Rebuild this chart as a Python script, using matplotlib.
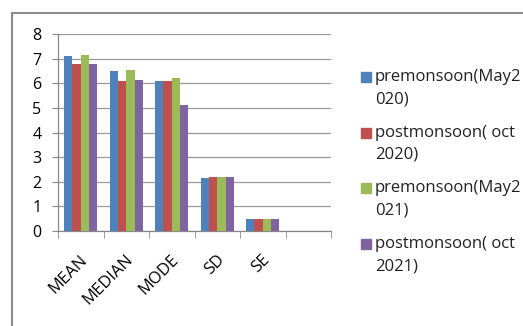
import matplotlib
matplotlib.use("Agg")
import matplotlib.pyplot as plt
from matplotlib.lines import Line2D
from matplotlib.patches import Rectangle
from matplotlib.transforms import ScaledTranslation
import numpy as np

categories = ["MEAN", "MEDIAN", "MODE", "SD", "SE", ""]
series_names = ["premonsoon(May2\n020)", "postmonsoon( oct\n2020)",
                "premonsoon(May2\n021)", "postmonsoon( oct\n2021)"]
pre_2020 = [7.13, 6.51, 6.10, 2.16, 0.50, np.nan]
post_2020 = [6.78, 6.10, 6.10, 2.20, 0.50, np.nan]
pre_2021 = [7.17, 6.55, 6.22, 2.20, 0.50, np.nan]
post_2021 = [6.78, 6.14, 5.11, 2.20, 0.50, np.nan]
colors = ["#4F81BD", "#C0504D", "#9BBB59", "#8064A2"]

plt.rcParams['font.family'] = ['Open Sans', 'DejaVu Sans']

W, H = 523, 326
fig = plt.figure(figsize=(W / 100, H / 100), dpi=100)
ax = fig.add_axes([58 / W, 1 - 231 / H, (331 - 58) / W, (231 - 34.3) / H])

x = np.arange(len(categories))
bw = 1 / 5.5
data = [pre_2020, post_2020, pre_2021, post_2021]
for i, (vals, c, name) in enumerate(zip(data, colors, series_names)):
    ax.bar(x + (i - 1.5) * bw, vals, width=bw, color=c, label=name, zorder=3)

ax.set_xlim(-0.5, len(categories) - 0.5)
ax.set_ylim(0, 8)
ax.set_yticks(range(0, 9))
ax.tick_params(axis='y', labelsize=11.5, length=4, color='#888888', pad=8)
ax.yaxis.grid(True, color='#999999', lw=0.9, zorder=0)
ax.set_xticks(x)
ax.set_xticklabels(categories, rotation=45, ha='right', va='top',
                   rotation_mode='anchor', fontsize=12)
ax.tick_params(axis='x', length=0, pad=15)
off = ScaledTranslation(-1 / 100, 0, fig.dpi_scale_trans)
for lab in ax.get_xticklabels():
    lab.set_transform(lab.get_transform() + off)
ax.set_xticks(np.arange(-0.5, len(categories)), minor=True)
ax.tick_params(axis='x', which='minor', length=5, color='#888888')
for s in ['top', 'right']:
    ax.spines[s].set_visible(False)
for s in ['left', 'bottom']:
    ax.spines[s].set_color('#888888')
    ax.spines[s].set_linewidth(0.9)

# legend (Excel style: marker aligned with first text line)
for i, (name, c) in enumerate(zip(series_names, colors)):
    y1 = 77 + 55.7 * i
    fig.add_artist(Rectangle((361 / W, 1 - (y1 + 5) / H), 10 / W, 10 / H,
                             color=c, transform=fig.transFigure))
    for j, line in enumerate(name.split("\n")):
        fig.text(375 / W, 1 - (y1 + 22 * j) / H, line, fontsize=12,
                 va='center', ha='left', color='#222222')

# chart area border
fig.add_artist(Line2D([12 / W, 1], [1 - 13 / H, 1 - 13 / H], color='#8c8c8c', lw=1.5,
                      transform=fig.transFigure))
fig.add_artist(Line2D([12 / W, 12 / W], [0, 1 - 13 / H], color='#8c8c8c', lw=1.5,
                      transform=fig.transFigure))

fig.savefig("out.png", dpi=100)
